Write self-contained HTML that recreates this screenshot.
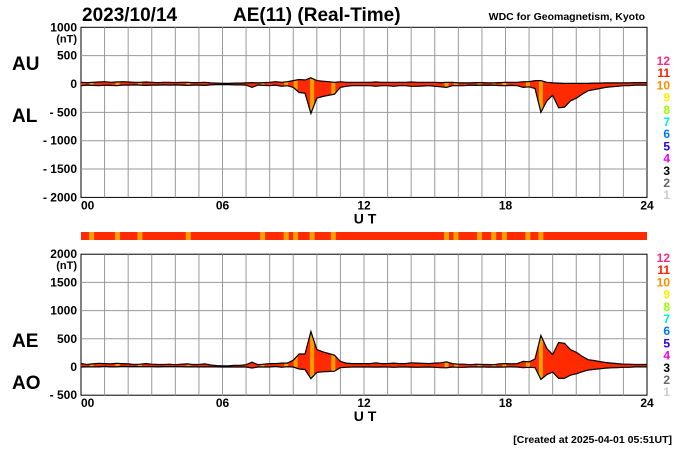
<!DOCTYPE html>
<html><head><meta charset="utf-8"><style>
body{margin:0;background:#fff;width:700px;height:450px;overflow:hidden}
svg{display:block;font-family:"Liberation Sans",Arial,sans-serif}
</style></head><body>
<svg id="c" width="700" height="450" xmlns="http://www.w3.org/2000/svg"></svg>
<script>
const hours=['00','06','12','18','24'];
const topTicks=[1000,500,0,-500,-1000,-1500,-2000];
const botTicks=[2000,1500,1000,500,0,-500];
// 15-minute samples, 00:00..24:00 (97 values)
const AU=[30,25,30,35, 40,30,35,40, 35,30,30,35, 30,25,30,30, 25,30,30,25, 25,30,20,15,
 10,10,15,15, 20,25,20,25, 30,40,30,40, 60,80,70,110, 60,50,40,30, 40,30,30,30,
 30,30,35,30, 30,30,30,30, 35,30,30,30, 30,25,30,30, 20,20,20,25, 25,20,20,25,
 30,30,30,40, 40,60,60,30, 20,15,10,10, 10,10,10,15, 15,20,20,20, 20,20,25,25, 25];
const AL=[-30,-20,-25,-30, -20,-25,-30,-20, -20,-15,-20,-25, -20,-20,-15,-20, -15,-20,-25,-20, -20,-25,-15,-10,
 -10,-10,-15,-15, -20,-60,-20,-25, -30,-20,-40,-30, -60,-150,-160,-520, -250,-220,-200,-180, -60,-40,-30,-30,
 -30,-30,-40,-30, -30,-40,-30,-30, -40,-40,-35,-30, -40,-50,-60,-30, -30,-30,-20,-25, -20,-25,-20,-30,
 -30,-25,-30,-60, -50,-80,-500,-300, -200,-420,-410,-300, -250,-180,-120,-100, -80,-60,-50,-40, -30,-30,-20,-20, -20];
const orangeHours=[0.45,1.55,2.5,4.55,7.7,8.7,9.1,9.8,10.7,15.5,15.9,16.9,17.5,17.95,18.95,19.5];
const legendNums=['12','11','10','9','8','7','6','5','4','3','2','1'];
const legendCols=['#ff2a7f','#ff2000','#ff8c00','#ffee00','#99ff00','#00eedd','#0077ff','#2200ee','#ee00ee','#000','#666','#ccc'];

const S=document.getElementById('c'),NS='http://www.w3.org/2000/svg';
function el(t,a,txt){const e=document.createElementNS(NS,t);for(const k in a)e.setAttribute(k,a[k]);if(txt!==undefined)e.textContent=txt;S.appendChild(e);return e;}
const X0=81,X1=647;
const xs=h=>X0+(X1-X0)*h/24;
const yTop=v=>84-v*0.0567;
const yBot=v=>367-v*0.0564;
const AE=AU.map((u,i)=>u-AL[i]);
const AO=AU.map((u,i)=>(u+AL[i])/2);

function panel(y,hi,lo,ticks,upper,lower,name,ul,ll,uy,ly){
  const yT=y(hi),yB=y(lo);
  let r=el('rect',{x:X0,y:yT,width:X1-X0,height:yB-yT,fill:'#fff',stroke:'#000','stroke-width':1});
  
  for(let h=1;h<24;h++){let l=el('line',{x1:xs(h),x2:xs(h),y1:yT,y2:yB,stroke:'#999','stroke-width':1});
    }
  ticks.forEach(t=>{if(t!==hi&&t!==lo){let l=el('line',{x1:X0,x2:X1,y1:y(t),y2:y(t),stroke:'#999','stroke-width':1});
    }
    let tx=el('text',{x:77,y:y(t)+4,'text-anchor':'end','font-size':12,'font-weight':'bold'},t<0?'- '+(-t):String(t));
    });
  let nt=el('text',{x:77,y:yT+15,'text-anchor':'end','font-size':11,'font-weight':'bold'},'(nT)');
  
  const n=upper.length,pts=[];
  for(let i=0;i<n;i++)pts.push(xs(i*24/(n-1)).toFixed(1)+','+y(upper[i]).toFixed(1));
  for(let i=n-1;i>=0;i--)pts.push(xs(i*24/(n-1)).toFixed(1)+','+y(lower[i]).toFixed(1));
  let cp=el('clipPath',{id:'cp'+name});const pp=document.createElementNS(NS,'polygon');pp.setAttribute('points',pts.join(' '));cp.appendChild(pp);
  let f=el('polygon',{points:pts.join(' '),fill:'#ff2a00',stroke:'none'});
  
  orangeHours.forEach(h=>{let o=el('rect',{x:xs(h)-2,y:yT,width:4,height:yB-yT,fill:'#f5a000','clip-path':'url(#cp'+name+')'});
    });
  let up=el('polyline',{points:pts.slice(0,n).join(' '),fill:'none',stroke:'#000','stroke-width':1.2});
  
  let dn=el('polyline',{points:pts.slice(n).join(' '),fill:'none',stroke:'#000','stroke-width':1.2});
  
  hours.forEach((h,i)=>{let t=el('text',{x:xs(i*6),y:yB+12,'font-size':12,'font-weight':'bold','text-anchor':i==0?'start':'middle'},h);
    });
  let ut=el('text',{x:365,y:yB+26,'text-anchor':'middle','font-size':14,'font-weight':'bold'},'U T');
  
  let a=el('text',{x:12,y:uy,'font-size':19,'font-weight':'bold'},ul);
  let b=el('text',{x:12,y:ly,'font-size':19,'font-weight':'bold'},ll);
}
panel(yTop,1000,-2000,topTicks,AU,AL,'au-al','AU','AL',70,122);
panel(yBot,2000,-500,botTicks,AE,AO,'ae-ao','AE','AO',347,389);

let bar=el('rect',{x:X0,y:232,width:X1-X0,height:8,fill:'#ff2a00'});

orangeHours.forEach(h=>{let o=el('rect',{x:xs(h)-2.5,y:232,width:5,height:8,fill:'#f5a000'});
  });

function legend(y0){legendNums.forEach((t,i)=>{let e=el('text',{x:670,y:y0+i*12.2,'text-anchor':'end','font-size':12,'font-weight':'bold',fill:legendCols[i]},t);
  });}
legend(65);legend(262);

let t1=el('text',{x:82,y:21,'font-size':19,'font-weight':'bold'},'2023/10/14');
let t2=el('text',{x:233,y:21,'font-size':19,'font-weight':'bold'},'AE(11) (Real-Time)');
let t3=el('text',{x:645,y:20,'text-anchor':'end','font-size':10.5,'font-weight':'bold'},'WDC for Geomagnetism, Kyoto');
let t4=el('text',{x:672,y:443,'text-anchor':'end','font-size':10.5,'font-weight':'bold'},'[Created at 2025-04-01 05:51UT]');
</script>
</body></html>
